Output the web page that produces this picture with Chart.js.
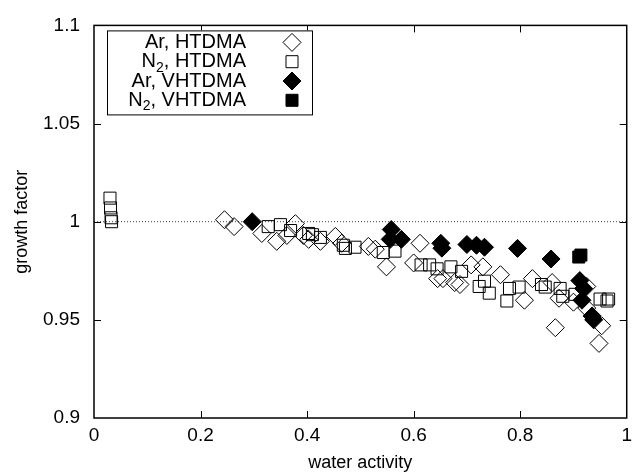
<!DOCTYPE html>
<html>
<head>
<meta charset="utf-8">
<script src="https://cdn.jsdelivr.net/npm/chart.js@4.4.0/dist/chart.umd.min.js"></script>
<style>
  body { margin: 0; background: #fff; }
  #wrap { width: 638px; height: 475px; position: relative; }
</style>
</head>
<body>
<div id="wrap"><canvas id="grafico"></canvas></div>
<script>
// valores (water activity, growth factor)
const arHtdmaX = [0.245, 0.263, 0.315, 0.343, 0.362, 0.378, 0.393, 0.403, 0.425, 0.453, 0.465, 0.515, 0.528, 0.549, 0.600, 0.612,
  0.645, 0.655, 0.677, 0.687, 0.708, 0.730, 0.763, 0.808, 0.823, 0.860, 0.866, 0.873, 0.900, 0.925, 0.925, 0.953, 0.948];
const arHtdmaY = [1.001, 0.9975, 0.994, 0.990, 0.993, 0.999, 0.993, 0.991, 0.990, 0.9925, 0.989, 0.9874, 0.986, 0.977, 0.979, 0.989,
  0.971, 0.971, 0.969, 0.968, 0.978, 0.977, 0.973, 0.960, 0.971, 0.969, 0.946, 0.961, 0.959, 0.967, 0.956, 0.947, 0.938];

const n2HtdmaX = [0.030, 0.031, 0.032, 0.033, 0.327, 0.350, 0.369, 0.403, 0.410, 0.425, 0.468, 0.472, 0.490, 0.543, 0.565,
  0.614, 0.630, 0.644, 0.670, 0.690, 0.723, 0.733, 0.742, 0.775, 0.780, 0.798, 0.840, 0.847, 0.875, 0.880, 0.903, 0.950, 0.963, 0.966];
const n2HtdmaY = [1.012, 1.007, 1.002, 1.000, 0.9975, 0.9985, 0.9955, 0.994, 0.9934, 0.992, 0.988, 0.9864, 0.987, 0.9843, 0.985,
  0.978, 0.978, 0.976, 0.977, 0.9747, 0.967, 0.9697, 0.9636, 0.9596, 0.966, 0.9667, 0.968, 0.9667, 0.966, 0.962, 0.963, 0.9606, 0.9596, 0.9606];

const arVhtdmaX = [0.297, 0.556, 0.558, 0.577, 0.651, 0.653, 0.700, 0.718, 0.733, 0.795, 0.858, 0.912, 0.919, 0.916, 0.935, 0.938];
const arVhtdmaY = [1.000, 0.991, 0.996, 0.991, 0.989, 0.9865, 0.9884, 0.988, 0.987, 0.9864, 0.981, 0.970, 0.966, 0.960, 0.952, 0.950];

const n2VhtdmaX = [0.910, 0.914];
const n2VhtdmaY = [0.982, 0.983];

const refX = [0, 1];
const refY = [1, 1];

const xTicks = [0, 0.2, 0.4, 0.6, 0.8, 1];
const yTicks = [0.9, 0.95, 1, 1.05, 1.1];

const etiquetas = ['Ar, HTDMA', 'N2, HTDMA', 'Ar, VHTDMA', 'N2, VHTDMA'];

const fuente = '"Liberation Sans", Arial, sans-serif';

function puntos(xs, ys) {
  return xs.map((x, i) => ({ x: x, y: ys[i] }));
}

// marco y marcas de graduacion hacia dentro (estilo gnuplot)
const marcoPlugin = {
  id: 'marco',
  afterDatasetsDraw(chart) {
    const { ctx, chartArea: a, scales } = chart;
    const tl = 7;
    ctx.save();
    ctx.strokeStyle = '#000';
    ctx.lineWidth = 1;
    ctx.beginPath();
    xTicks.slice(1, -1).forEach(v => {
      const px = Math.round(scales.x.getPixelForValue(v)) + 0.5;
      ctx.moveTo(px, a.bottom); ctx.lineTo(px, a.bottom - tl);
      ctx.moveTo(px, a.top); ctx.lineTo(px, a.top + tl);
    });
    yTicks.slice(1, -1).forEach(v => {
      const py = Math.round(scales.y.getPixelForValue(v)) + 0.5;
      ctx.moveTo(a.left, py); ctx.lineTo(a.left + tl, py);
      ctx.moveTo(a.right, py); ctx.lineTo(a.right - tl, py);
    });
    ctx.stroke();
    ctx.lineWidth = 1.5;
    ctx.strokeRect(a.left, a.top, a.right - a.left, a.bottom - a.top);
    ctx.restore();
  }
};

// leyenda: texto alineado a la derecha y simbolo a la derecha
const leyendaPlugin = {
  id: 'leyenda',
  afterDraw(chart) {
    const { ctx, chartArea: a } = chart;
    const x0 = a.left + 13, y0 = a.top + 5;
    const w = 205, h = 84;
    const textoDer = x0 + 139;
    const simX = x0 + 185;
    const fGrande = '20px ' + fuente;
    const fSub = '14px ' + fuente;
    ctx.save();
    ctx.fillStyle = '#fff';
    ctx.fillRect(x0, y0, w, h);
    ctx.strokeStyle = '#000';
    ctx.lineWidth = 1;
    ctx.strokeRect(x0 + 0.5, y0 + 0.5, w, h);
    ctx.textBaseline = 'middle';
    ctx.textAlign = 'right';
    etiquetas.forEach((txt, i) => {
      const y = y0 + 12 + i * 19.3;
      let x = textoDer;
      ctx.fillStyle = '#000';
      ctx.font = fGrande;
      if (txt.startsWith('N2')) {
        const resto = txt.slice(2);
        ctx.fillText(resto, x, y);
        x -= ctx.measureText(resto).width;
        ctx.font = fSub;
        ctx.fillText('2', x, y + 6);
        x -= ctx.measureText('2').width;
        ctx.font = fGrande;
        ctx.fillText('N', x, y);
      } else {
        ctx.fillText(txt, x, y);
      }
      const ds = chart.data.datasets[i];
      ctx.fillStyle = ds.backgroundColor;
      ctx.strokeStyle = ds.borderColor;
      ctx.lineWidth = ds.borderWidth;
      Chart.helpers.drawPoint(ctx, {
        pointStyle: ds.pointStyle,
        radius: ds.pointRadius,
        borderWidth: ds.borderWidth
      }, simX, y);
    });
    ctx.restore();
  }
};

const ctx = document.getElementById('grafico').getContext('2d');

new Chart(ctx, {
  type: 'scatter',
  data: {
    datasets: [
      {
        label: etiquetas[0],
        data: puntos(arHtdmaX, arHtdmaY),
        pointStyle: 'rectRot',
        pointRadius: 9,
        borderColor: '#000',
        backgroundColor: 'rgba(0,0,0,0)',
        borderWidth: 1,
        order: 4
      },
      {
        label: etiquetas[1],
        data: puntos(n2HtdmaX, n2HtdmaY),
        pointStyle: 'rect',
        pointRadius: 8.5,
        borderColor: '#000',
        backgroundColor: 'rgba(0,0,0,0)',
        borderWidth: 1,
        order: 3
      },
      {
        label: etiquetas[2],
        data: puntos(arVhtdmaX, arVhtdmaY),
        pointStyle: 'rectRot',
        pointRadius: 9,
        borderColor: '#000',
        backgroundColor: '#000',
        borderWidth: 1,
        order: 2
      },
      {
        label: etiquetas[3],
        data: puntos(n2VhtdmaX, n2VhtdmaY),
        pointStyle: 'rect',
        pointRadius: 8.5,
        borderColor: '#000',
        backgroundColor: '#000',
        borderWidth: 1,
        order: 1
      },
      {
        label: 'ref',
        data: puntos(refX, refY),
        showLine: true,
        borderColor: '#444',
        borderWidth: 1,
        borderDash: [1, 2],
        pointRadius: 0,
        order: 5
      }
    ]
  },
  options: {
    responsive: true,
    maintainAspectRatio: false,
    animation: false,
    events: [],
    layout: { padding: { top: 23, right: 8, left: 0, bottom: 0 } },
    plugins: {
      legend: { display: false },
      tooltip: { enabled: false }
    },
    scales: {
      x: {
        type: 'linear',
        min: 0,
        max: 1,
        afterBuildTicks: s => { s.ticks = xTicks.map(v => ({ value: v })); },
        afterFit: s => { s.height = 57; },
        grid: { display: false, drawTicks: false },
        border: { display: false },
        ticks: {
          color: '#000',
          font: { family: fuente, size: 19 },
          padding: 6,
          maxRotation: 0,
          callback: v => String(v)
        },
        title: {
          display: true,
          text: 'water activity',
          color: '#000',
          font: { family: fuente, size: 18 },
          padding: { top: 0, bottom: 1 }
        }
      },
      y: {
        type: 'linear',
        min: 0.9,
        max: 1.1,
        afterBuildTicks: s => { s.ticks = yTicks.map(v => ({ value: v })); },
        afterFit: s => { s.width = 94; },
        grid: { display: false, drawTicks: false },
        border: { display: false },
        ticks: {
          color: '#000',
          font: { family: fuente, size: 19 },
          padding: 14,
          callback: v => String(v)
        },
        title: {
          display: true,
          text: 'growth factor',
          color: '#000',
          font: { family: fuente, size: 18 },
          padding: { top: 11, bottom: 0 }
        }
      }
    }
  },
  plugins: [marcoPlugin, leyendaPlugin]
});
</script>
</body>
</html>
